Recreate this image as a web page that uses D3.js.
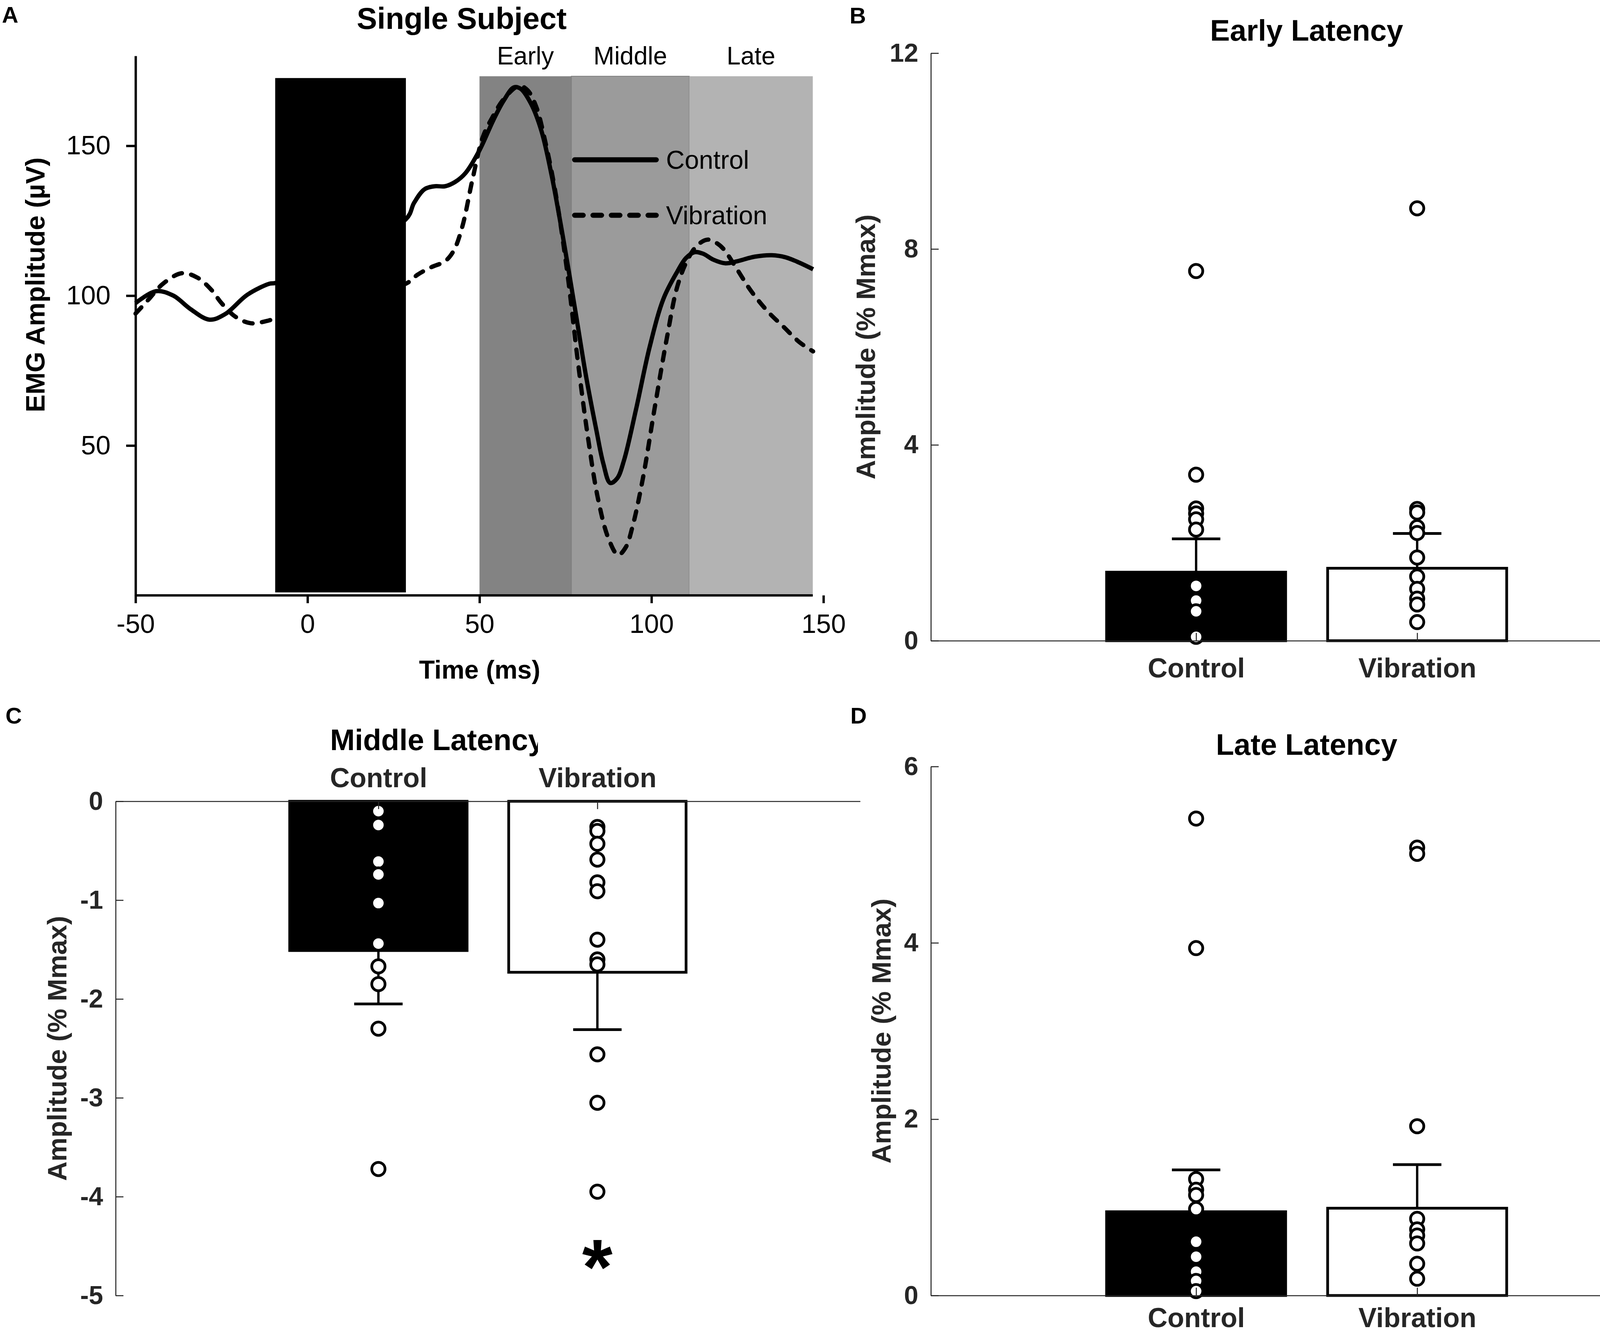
<!DOCTYPE html>
<html>
<head>
<meta charset="utf-8">
<script src="https://d3js.org/d3.v7.min.js"></script>
<style>
  body { margin: 0; background: #fff; }
  svg { display: block; }
  svg text { font-family: "Liberation Sans", Arial, sans-serif; }
</style>
</head>
<body>
<svg id="fig"></svg>
<script>
// ---------- data ----------
var categories = ["Control", "Vibration"];

// panel A, single subject EMG traces (ms, uV)
var timeControl = [-50, -44, -39, -34, -28.5, -24, -17.5, -11, -9, 28.6, 31, 34, 37, 40, 43, 46, 50, 54, 57, 60, 62, 65, 68, 71, 74.5, 78, 81, 84, 86, 88, 90, 92, 95.5, 99.5, 103.5, 107.5, 110, 112.5, 115, 118, 121.5, 125, 130, 135, 139, 143, 147];
var ampControl  = [97.5, 101.5, 100, 95.5, 92, 93.8, 100.3, 104, 104.3, 125.5, 131, 135.5, 136.5, 136.5, 138, 141, 148.5, 158.5, 165, 169.5, 169, 164, 155, 140, 118, 94, 73, 55, 44, 37.5, 39, 45, 62, 83, 99, 108, 112.5, 114.5, 114, 112, 110.8, 111.5, 113, 113.5, 112.8, 111, 108.8];
var timeVibration = [-50, -46, -42, -36.5, -32, -28, -25, -21, -16.5, -12, -9, 28.6, 32, 36, 40, 42.5, 45, 48, 51, 54, 57, 61.5, 64, 66.5, 69, 72, 75.5, 78.5, 81.5, 84.5, 87.5, 90.3, 92.5, 94.5, 97.5, 101, 104.5, 107.5, 110.5, 113.5, 116.5, 119, 121, 124.5, 129, 134, 138.5, 143, 147];
var ampVibration  = [94, 99, 104, 107.5, 106, 102, 97.5, 93, 90.8, 91.5, 92.5, 104, 107, 109.5, 111.5, 115, 123, 139, 153, 160, 165.5, 170, 168.5, 163, 152, 135, 108, 79, 53, 32, 19, 13.5, 16, 23, 39, 63, 86, 103, 112, 117, 118.7, 117.5, 115.5, 109.5, 101.5, 94.5, 89.5, 84.5, 81.4];
var stimWindow = [-9.4, 28.6];
var windowNames = ["Early", "Middle", "Late"];
var windowEdges = [50, 76.7, 111, 146.9];
var aTimeTicks = [-50, 0, 50, 100, 150];
var aAmpTicks = [50, 100, 150];

// panel B, early latency (% Mmax)
var earlyMeans = [1.40, 1.48];
var earlyErr = [0.68, 0.71];
var earlyControlPts = [7.55, 3.39, 2.70, 2.60, 2.48, 2.27, 1.12, 0.82, 0.60, 0.08];
var earlyVibrationPts = [8.83, 2.69, 2.62, 2.32, 2.20, 1.70, 1.31, 1.06, 0.86, 0.74, 0.38];
var earlyTicks = [0, 4, 8, 12];

// panel C, middle latency
var middleMeans = [-1.51, -1.73];
var middleErr = [0.54, 0.58];
var middleControlPts = [-0.10, -0.24, -0.61, -0.74, -1.03, -1.44, -1.67, -1.85, -2.30, -3.72];
var middleVibrationPts = [-0.26, -0.30, -0.43, -0.59, -0.82, -0.91, -1.40, -1.60, -1.65, -2.56, -3.05, -3.95];
var middleTicks = [0, -1, -2, -3, -4, -5];

// panel D, late latency
var lateMeans = [0.95, 0.99];
var lateErr = [0.475, 0.495];
var lateControlPts = [5.41, 3.94, 1.32, 1.20, 1.14, 0.98, 0.61, 0.44, 0.27, 0.165, 0.05];
var lateVibrationPts = [5.08, 5.01, 1.92, 0.87, 0.75, 0.68, 0.59, 0.36, 0.19];
var lateTicks = [0, 2, 4, 6];

// ---------- svg ----------
var W = 4313, H = 3412;
var svg = d3.select("#fig").attr("width", W).attr("height", H);
svg.append("rect").attr("width", W).attr("height", H).attr("fill", "#fff");

var dark = "#262626";

function styleAxis(g, size, weight, color, lw) {
  g.attr("font-size", null).attr("font-family", null);
  g.selectAll("text").attr("font-size", size).attr("font-weight", weight).attr("fill", color);
  g.selectAll("line").attr("stroke", color).attr("stroke-width", lw);
  g.selectAll("path.domain").attr("stroke", color).attr("stroke-width", lw);
}

// ---------- panel A ----------
var xA = d3.scaleLinear().domain([-50, 150]).range([347, 2108]);
var yA = d3.scaleLinear().domain([0, 180]).range([1524, 143]);
var gA = svg.append("g");

var shade = ["#838383", "#9b9b9b", "#b3b3b3"];
windowNames.forEach(function(name, i) {
  gA.append("rect")
    .attr("x", xA(windowEdges[i]))
    .attr("y", yA(173.2))
    .attr("width", xA(windowEdges[i + 1]) - xA(windowEdges[i]))
    .attr("height", yA(0) - yA(173.2))
    .attr("fill", shade[i])
    .attr("stroke", i == 1 ? "#7d7d7d" : "none")
    .attr("stroke-width", 2);
  gA.append("text")
    .attr("x", xA((windowEdges[i] + windowEdges[i + 1]) / 2))
    .attr("y", 165)
    .attr("text-anchor", "middle")
    .attr("font-size", 64)
    .text(name);
});

var lineA = d3.line()
  .x(function(d) { return xA(d[0]); })
  .y(function(d) { return yA(d[1]); })
  .curve(d3.curveCatmullRom.alpha(0.5));

gA.append("path")
  .datum(d3.zip(timeControl, ampControl))
  .attr("d", lineA)
  .attr("fill", "none").attr("stroke", "#000").attr("stroke-width", 11);
gA.append("path")
  .datum(d3.zip(timeVibration, ampVibration))
  .attr("d", lineA)
  .attr("fill", "none").attr("stroke", "#000").attr("stroke-width", 11)
  .attr("stroke-dasharray", "22,24").attr("stroke-linecap", "round");

// stimulus artefact block
gA.append("rect")
  .attr("x", xA(stimWindow[0]))
  .attr("y", yA(172.6))
  .attr("width", xA(stimWindow[1]) - xA(stimWindow[0]))
  .attr("height", yA(1) - yA(172.6))
  .attr("fill", "#000");

var xAxisA = gA.append("g")
  .attr("transform", "translate(0," + yA(0) + ")")
  .call(d3.axisBottom(xA).tickValues(aTimeTicks).tickSize(20).tickSizeOuter(0).tickPadding(28)
    .tickFormat(function(d) { return String(d); }));
styleAxis(xAxisA, 68, "normal", "#000", 6);
xAxisA.select("path.domain").remove();
xAxisA.append("line")
  .attr("x1", xA(-50)).attr("x2", xA(windowEdges[3]))
  .attr("stroke", "#000").attr("stroke-width", 6);

var yAxisA = gA.append("g")
  .attr("transform", "translate(" + xA(-50) + ",0)")
  .call(d3.axisLeft(yA).tickValues(aAmpTicks).tickSize(24).tickSizeOuter(0).tickPadding(40));
styleAxis(yAxisA, 68, "normal", "#000", 6);

// legend
var legendA = [{name: "Control", y: 409, dash: null}, {name: "Vibration", y: 551, dash: "22,25"}];
legendA.forEach(function(d) {
  gA.append("line")
    .attr("x1", 1471).attr("x2", 1680).attr("y1", d.y).attr("y2", d.y)
    .attr("stroke", "#000").attr("stroke-width", 13).attr("stroke-linecap", "round")
    .attr("stroke-dasharray", d.dash);
  gA.append("text").attr("x", 1705).attr("y", d.y + 23).attr("font-size", 66).text(d.name);
});

gA.append("text").attr("x", 1182).attr("y", 74).attr("text-anchor", "middle")
  .attr("font-size", 78).attr("font-weight", "bold").text("Single Subject");
gA.append("text").attr("x", 1228).attr("y", 1737).attr("text-anchor", "middle")
  .attr("font-size", 66).attr("font-weight", "bold").text("Time (ms)");
gA.append("text").attr("transform", "translate(114,729) rotate(-90)").attr("text-anchor", "middle")
  .attr("font-size", 68).attr("font-weight", "bold").text("EMG Amplitude (µV)");

// ---------- bar panels ----------
function barPanel(o) {
  var g = svg.append("g");
  var x = d3.scaleLinear().domain([-0.2, 3.2]).range(o.xRange);
  var y = d3.scaleLinear().domain(o.yDomain).range(o.yRange);
  var bw = (x(1) - x(0)) * 0.81;
  var cap = 62;

  o.means.forEach(function(m, i) {
    var cx = x(i + 1);
    g.append("rect")
      .attr("x", cx - bw / 2).attr("width", bw)
      .attr("y", Math.min(y(0), y(m))).attr("height", Math.abs(y(m) - y(0)))
      .attr("fill", i == 0 ? "#000" : "#fff")
      .attr("stroke", "#000").attr("stroke-width", 7);
    var tip = m + (m < 0 ? -o.err[i] : o.err[i]);
    g.append("line").attr("x1", cx).attr("x2", cx).attr("y1", y(m)).attr("y2", y(tip))
      .attr("stroke", "#000").attr("stroke-width", 6);
    g.append("line").attr("x1", cx - cap).attr("x2", cx + cap).attr("y1", y(tip)).attr("y2", y(tip))
      .attr("stroke", "#000").attr("stroke-width", 7);
  });

  [o.ctrlPts, o.vibPts].forEach(function(pts, i) {
    g.selectAll(null).data(pts).enter().append("circle")
      .attr("cx", x(i + 1)).attr("cy", function(d) { return y(d); })
      .attr("r", 17).attr("fill", "#fff").attr("stroke", "#000").attr("stroke-width", 7);
  });

  var xAx = o.top ? d3.axisTop(x) : d3.axisBottom(x);
  var xg = g.append("g").attr("transform", "translate(0," + y(0) + ")")
    .call(xAx.tickValues([1, 2]).tickSize(-20).tickSizeOuter(0).tickPadding(o.xPad)
      .tickFormat(function(d) { return categories[d - 1]; }));
  styleAxis(xg, 70, "bold", dark, 2.6);

  var yg = g.append("g").attr("transform", "translate(" + o.xRange[0] + ",0)")
    .call(d3.axisLeft(y).tickValues(o.ticks).tickSize(-20).tickSizeOuter(0).tickPadding(32)
      .tickFormat(function(d) { return String(d); }));
  styleAxis(yg, 66, "bold", dark, 2.6);

  var t = g.append("text").attr("x", o.titleX).attr("y", o.titleY)
    .attr("text-anchor", o.titleAnchor).attr("font-size", 76).attr("font-weight", "bold")
    .text(o.title);
  if (o.clipX) {
    var id = "clip" + o.letter;
    svg.append("clipPath").attr("id", id).append("rect")
      .attr("x", 0).attr("y", o.titleY - 100).attr("width", o.clipX).attr("height", 140);
    t.attr("clip-path", "url(#" + id + ")");
  }
  g.append("text")
    .attr("transform", "translate(" + o.labelX + "," + ((o.yRange[0] + o.yRange[1]) / 2) + ") rotate(-90)")
    .attr("text-anchor", "middle").attr("font-size", 69).attr("font-weight", "bold").attr("fill", dark)
    .text("Amplitude (% Mmax)");
  return {g: g, x: x, y: y};
}

barPanel({letter: "B", xRange: [2383, 4307], yDomain: [0, 12], yRange: [1640, 136],
  means: earlyMeans, err: earlyErr, ctrlPts: earlyControlPts, vibPts: earlyVibrationPts,
  ticks: earlyTicks, xPad: 44, title: "Early Latency", titleX: 3345, titleY: 104,
  titleAnchor: "middle", labelX: 2240});

var pC = barPanel({letter: "C", top: true, xRange: [296, 2202], yDomain: [-5, 0], yRange: [3316, 2051],
  means: middleMeans, err: middleErr, ctrlPts: middleControlPts, vibPts: middleVibrationPts,
  ticks: middleTicks, xPad: 36, title: "Middle Latency", titleX: 845, titleY: 1920,
  titleAnchor: "start", clipX: 1377, labelX: 170});
pC.g.append("text").attr("x", pC.x(2)).attr("y", 3312).attr("text-anchor", "middle")
  .attr("font-size", 200).attr("font-weight", "bold").text("*");

barPanel({letter: "D", xRange: [2383, 4307], yDomain: [0, 6], yRange: [3316, 1962],
  means: lateMeans, err: lateErr, ctrlPts: lateControlPts, vibPts: lateVibrationPts,
  ticks: lateTicks, xPad: 31, title: "Late Latency", titleX: 3345, titleY: 1932,
  titleAnchor: "middle", labelX: 2280});

// panel letters
[["A", 5, 58], ["B", 2175, 60], ["C", 14, 1852], ["D", 2177, 1852]].forEach(function(d) {
  svg.append("text").attr("x", d[1]).attr("y", d[2])
    .attr("font-size", 58).attr("font-weight", "bold").text(d[0]);
});
</script>
</body>
</html>
